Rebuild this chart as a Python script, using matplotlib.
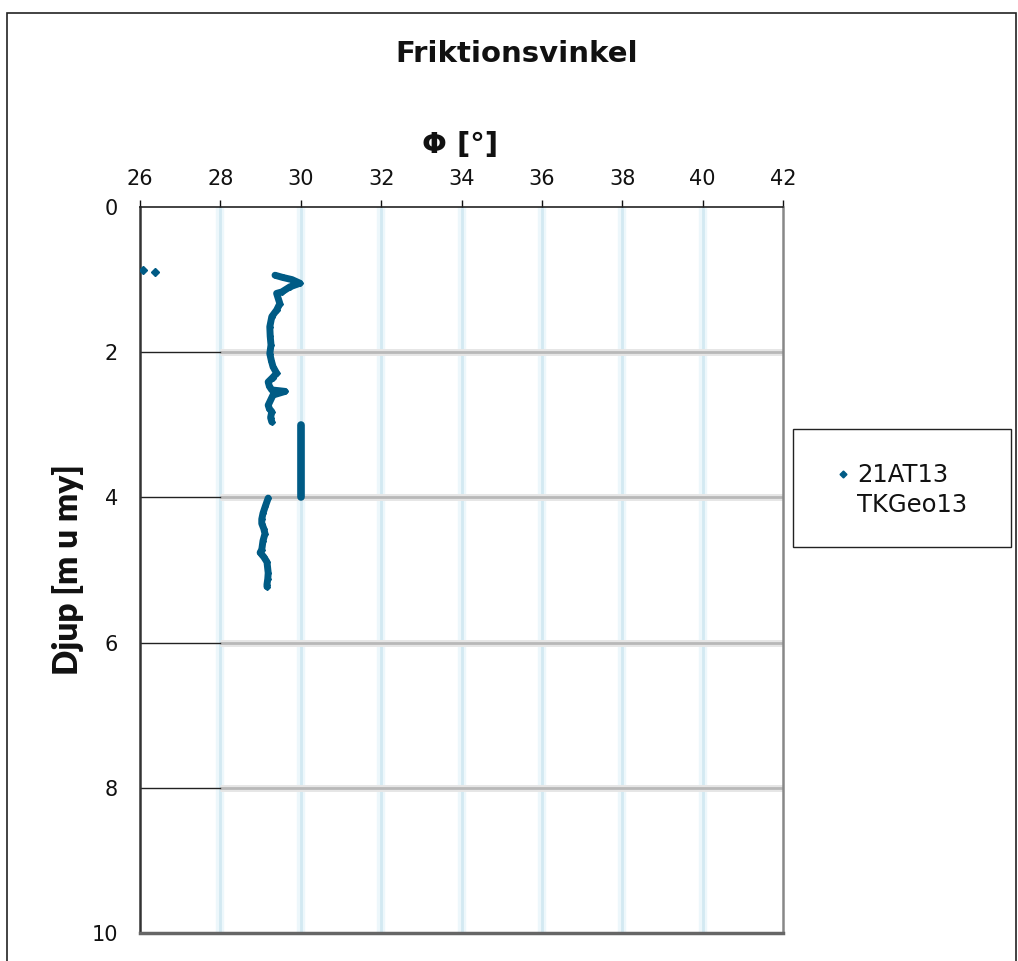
"""Friktionsvinkel mot djup, sondering 21AT13."""

import matplotlib.pyplot as plt
from matplotlib.patches import Rectangle

# Ströpunkter överst
phi_top = [26.07, 26.37]
depth_top = [0.87, 0.90]

# Övre kurva
phi_upper = [29.36, 29.55, 29.78, 29.98, 29.73, 29.53, 29.40, 29.48, 29.40, 29.28,
             29.23, 29.24, 29.26, 29.23, 29.27, 29.31, 29.40, 29.30, 29.19,
             29.22, 29.28, 29.45, 29.61, 29.31, 29.19, 29.22, 29.28, 29.25, 29.28]
depth_upper = [0.94, 0.97, 1.00, 1.05, 1.10, 1.17, 1.19, 1.33, 1.42, 1.51,
               1.65, 1.78, 1.90, 2.02, 2.12, 2.20, 2.29, 2.35, 2.41,
               2.47, 2.52, 2.53, 2.54, 2.59, 2.73, 2.78, 2.82, 2.90, 2.96]

# Konstant värde 3-4 m
phi_const = [30.0, 30.0]
depth_const = [3.0, 4.0]

# Undre kurva
phi_lower = [29.19, 29.12, 29.06, 29.03, 29.03, 29.08, 29.11, 29.06, 29.03, 28.99,
             29.08, 29.16, 29.19, 29.18, 29.16, 29.16]
depth_lower = [4.01, 4.12, 4.22, 4.30, 4.36, 4.43, 4.50, 4.60, 4.72, 4.76,
               4.82, 4.89, 5.04, 5.12, 5.20, 5.23]

x_ticks = [26, 28, 30, 32, 34, 36, 38, 40, 42]
y_ticks = [0, 2, 4, 6, 8, 10]
series_name = "21AT13\nTKGeo13"

MARK = "#005b85"

fig = plt.figure(figsize=(10.18, 9.61), dpi=100)
ax = fig.add_axes([140 / 1018, 1 - 933 / 961, 643 / 1018, 726 / 961])

# Ram runt hela diagrammet
fig.patches.append(Rectangle((7 / 1018, -0.01), 1009 / 1018, 1 - 13 / 961 + 0.01,
                             transform=fig.transFigure, fill=False,
                             edgecolor="#222222", linewidth=1.2))

ax.set_xlim(26, 42)
ax.set_ylim(10, 0)

# Rutnät
for xv in x_ticks[1:-1]:
    ax.axvline(xv, color="#edf7fb", linewidth=6, zorder=0)
    ax.axvline(xv, color="#d3e9f2", linewidth=2, zorder=0)
for yv in y_ticks[1:-1]:
    ax.plot([26, 28], [yv, yv], color="#222222", linewidth=1, zorder=1)
    ax.plot([28, 42], [yv, yv], color="#e6e6e6", linewidth=5, zorder=0.5,
            solid_capstyle="butt")
    ax.plot([28, 42], [yv, yv], color="#b8b8b8", linewidth=2, zorder=0.6,
            solid_capstyle="butt")

# Mätdata
ax.plot(phi_top, depth_top, linestyle="none", marker="D", markersize=4.5,
        color=MARK, zorder=3)
ax.plot(phi_upper, depth_upper, color=MARK, linewidth=5, marker="D",
        markersize=3, zorder=3, solid_capstyle="round", solid_joinstyle="round")
ax.plot(phi_const, depth_const, color=MARK, linewidth=5.5, zorder=3,
        solid_capstyle="round")
ax.plot(phi_lower, depth_lower, color=MARK, linewidth=5, marker="D",
        markersize=3, zorder=3, solid_capstyle="round", solid_joinstyle="round")

ax.xaxis.tick_top()
ax.xaxis.set_label_position("top")
ax.set_xticks(x_ticks)
ax.set_yticks(y_ticks)
ax.tick_params(axis="x", direction="out", length=5, width=1, pad=8,
               labelsize=15, colors="#111111")
ax.tick_params(axis="y", length=0, pad=16, labelsize=15, colors="#111111")

ax.spines["top"].set_color("#222222")
ax.spines["top"].set_linewidth(1.2)
ax.spines["left"].set_color("#333333")
ax.spines["left"].set_linewidth(1.8)
ax.spines["bottom"].set_color("#666666")
ax.spines["bottom"].set_linewidth(2.5)
ax.spines["right"].set_color("#888888")
ax.spines["right"].set_linewidth(1.8)

fig.text(517 / 1018, 1 - 54 / 961, "Friktionsvinkel", ha="center", va="center",
         fontsize=21, fontweight="bold", color="#111111")
fig.text(460 / 1018, 1 - 145 / 961, "Φ [°]", ha="center", va="center",
         fontsize=21, fontweight="bold", color="#111111")
fig.text(68 / 1018, 1 - 570 / 961, "Djup [m u my]", ha="center", va="center",
         rotation=90, fontsize=24, fontweight="heavy", family="Lato",
         color="#111111")

# Teckenförklaring
fig.patches.append(Rectangle((793 / 1018, 1 - 547 / 961), 218 / 1018, 118 / 961,
                             transform=fig.transFigure, fill=False,
                             edgecolor="#222222", linewidth=1))
fig.lines.append(plt.Line2D([843 / 1018], [1 - 474 / 961], marker="D",
                            markersize=3.5, color=MARK, linestyle="none",
                            transform=fig.transFigure))
fig.text(857 / 1018, 1 - 490 / 961, series_name, ha="left", va="center",
         fontsize=17.5, color="#111111", linespacing=1.35)

fig.savefig("out.png", dpi=100)
